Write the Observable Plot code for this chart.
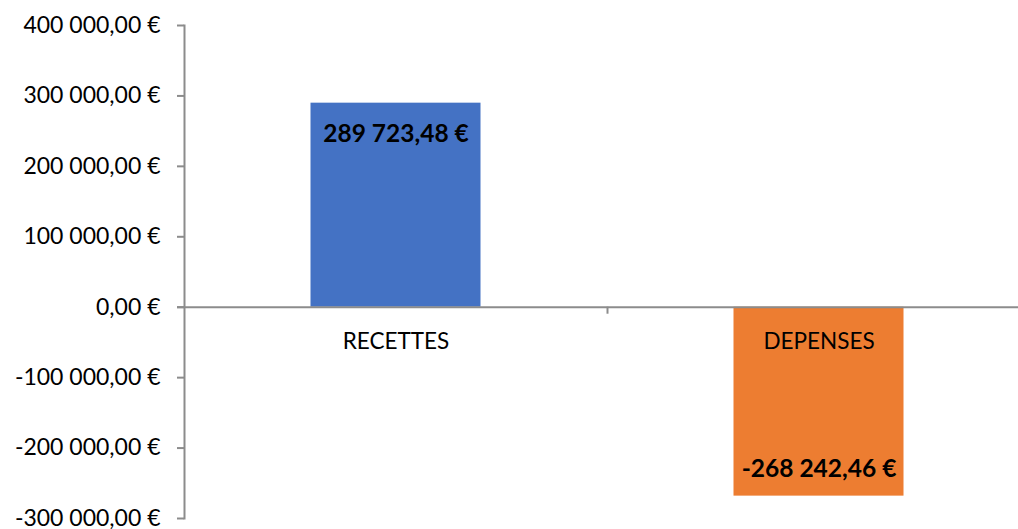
<!DOCTYPE html>
<html>
<head>
<meta charset="utf-8">
<script src="https://cdn.jsdelivr.net/npm/d3@7"></script>
<script src="https://cdn.jsdelivr.net/npm/@observablehq/plot@0.6"></script>
<style>
  html, body { margin: 0; padding: 0; background: #fff; }
</style>
</head>
<body>
<div id="chart"></div>
<script>
const categories = ["RECETTES", "DEPENSES"];
const values = [289723.48, -268242.46];
const colors = ["#4472C4", "#ED7D31"];
const yTicks = [-300000, -200000, -100000, 0, 100000, 200000, 300000, 400000];

const locale = d3.formatLocale({decimal: ",", thousands: "\u00a0", grouping: [3], currency: ["", ""], minus: "-"});
const num = locale.format(",.2f");
const fmt = v => num(v) + " €";

const data = categories.map((c, i) => ({cat: c, value: values[i], color: colors[i]}));
const axisGray = "#8c8c8c";
const font = "Lato, 'Open Sans', sans-serif";

const chart = Plot.plot({
  width: 1018,
  height: 529,
  marginLeft: 184,
  marginRight: 0,
  marginTop: 25,
  marginBottom: 11,
  style: {fontFamily: font, fontSize: "23px", background: "#fff", color: "#000"},
  x: {domain: categories, range: [184, 1030], padding: 0, axis: null},
  y: {domain: [-300000, 400000], axis: null},
  marks: [
    Plot.barY(data, {x: "cat", y: "value", fill: "color", insetLeft: 126.5, insetRight: 126.5}),
    Plot.ruleY([0], {stroke: axisGray, strokeWidth: 2, insetLeft: -7}),
    Plot.frame({anchor: "left", stroke: axisGray, strokeWidth: 2}),
    Plot.axisY({ticks: yTicks, tickFormat: fmt, tickSize: 7, tickPadding: 17, stroke: axisGray, strokeWidth: 2, fill: "#000", fontSize: 23, label: null}),
    Plot.ruleX(["DEPENSES"], {y1: 0, y2: 0, dx: -211.5, insetBottom: -7, stroke: axisGray, strokeWidth: 2}),
    Plot.text(data, {x: "cat", y: 0, text: "cat", dy: 35, fill: "#000", fontSize: 22.5}),
    Plot.text(data.filter(d => d.value >= 0), {x: "cat", y: "value", text: d => fmt(d.value), dy: 31, fill: "#000", fontWeight: "bold", fontSize: 24.5}),
    Plot.text(data.filter(d => d.value < 0), {x: "cat", y: "value", text: d => fmt(d.value), dy: -27, fill: "#000", fontWeight: "bold", fontSize: 24.5})
  ]
});
document.getElementById("chart").appendChild(chart);
</script>
</body>
</html>
